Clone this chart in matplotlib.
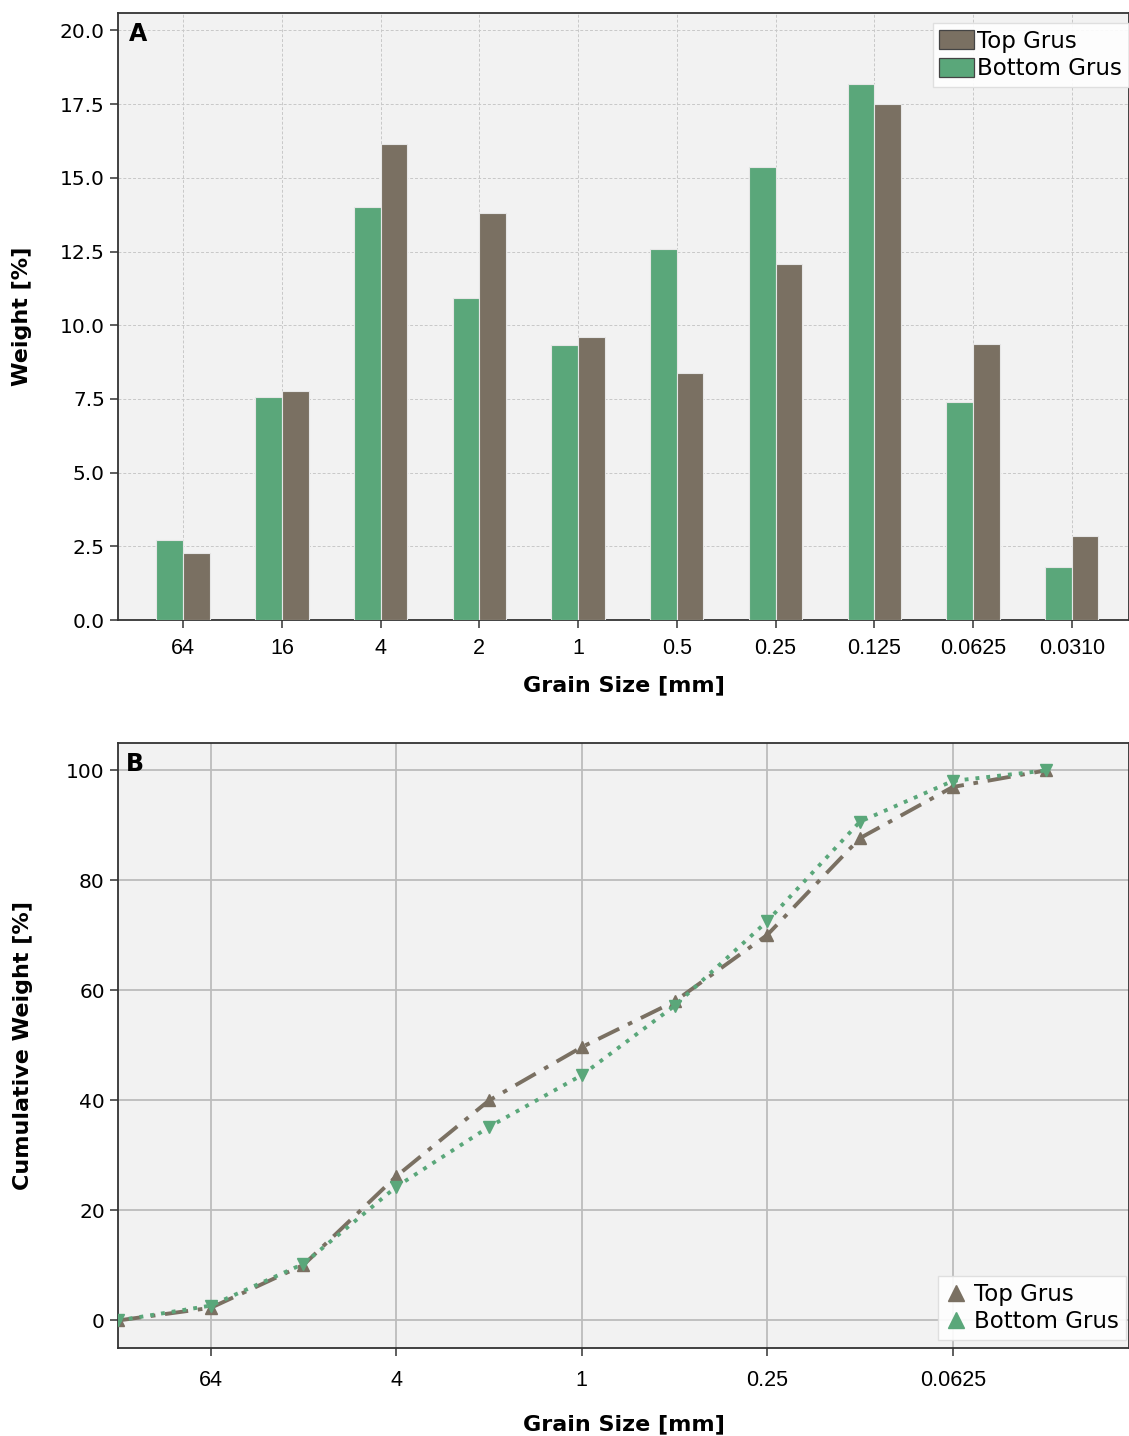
import numpy as np
import matplotlib.pyplot as plt
from matplotlib.patches import Patch
from matplotlib.lines import Line2D

# grain size classes [mm]
grain_sizes = ["64", "16", "4", "2", "1", "0.5", "0.25", "0.125", "0.0625", "0.0310"]

# weight per class [%]
top_grus = [2.28, 7.78, 16.16, 13.82, 9.61, 8.39, 12.09, 17.52, 9.37, 2.85]
bottom_grus = [2.72, 7.57, 14.02, 10.93, 9.34, 12.60, 15.38, 18.17, 7.40, 1.80]

# cumulative weight [%] (first point = 0)
top_cum = [0, 2.3, 10.1, 26.2, 40.0, 49.7, 58.0, 70.1, 87.7, 97.0, 100]
bottom_cum = [0, 2.7, 10.3, 24.3, 35.2, 44.6, 57.2, 72.6, 90.7, 98.1, 100]

brown = "#7a7062"
green = "#5aa77a"
bg = "#f2f2f2"

fig = plt.figure(figsize=(11.29, 14.36), dpi=100)
ax1 = fig.add_axes([0.1045, 0.5682, 0.8955, 0.4227])
ax2 = fig.add_axes([0.1045, 0.0613, 0.8955, 0.4213])

# ---- A: bar chart
x = np.arange(len(grain_sizes))
w = 0.27
ax1.set_facecolor(bg)
ax1.bar(x - w / 2, bottom_grus, w, color=green, edgecolor="#e6e6e6", linewidth=0.8, zorder=3)
ax1.bar(x + w / 2, top_grus, w, color=brown, edgecolor="#e6e6e6", linewidth=0.8, zorder=3)
ax1.set_xticks(x)
ax1.set_xticklabels(grain_sizes, fontfamily="Liberation Sans", fontsize=15.5)
ax1.set_xlim(-0.66, 9.58)
ax1.set_ylim(0, 20.59)
ax1.set_yticks(np.arange(0, 20.1, 2.5))
ax1.set_yticklabels([f"{v:.1f}" for v in np.arange(0, 20.1, 2.5)], fontsize=14.5)
ax1.grid(True, linestyle=(0, (3, 2)), color="#c8c8c8", linewidth=0.7, zorder=0)
ax1.set_axisbelow(True)
ax1.tick_params(axis="x", pad=7)
ax1.set_xlabel("Grain Size [mm]", fontsize=16, fontweight="bold", labelpad=12)
ax1.set_ylabel("Weight [%]", fontsize=16, fontweight="bold", labelpad=20)
ax1.text(0.011, 0.985, "A", transform=ax1.transAxes, fontsize=17, fontweight="bold",
         va="top", ha="left")
handles1 = [Patch(facecolor=brown, edgecolor="#444444", linewidth=0.9, label="Top Grus"),
            Patch(facecolor=green, edgecolor="#444444", linewidth=0.9, label="Bottom Grus")]
ax1.legend(handles=handles1, loc="upper right", fontsize=16.5, handlelength=1.5,
           handleheight=0.9, handletextpad=0.15, borderpad=0.3, labelspacing=0.2,
           framealpha=0.9, edgecolor="#dddddd", fancybox=False,
           bbox_to_anchor=(1.0, 0.984), borderaxespad=0.0)

# ---- B: cumulative curves
xi = np.arange(len(top_cum))
ax2.set_facecolor(bg)
ax2.plot(xi, top_cum, color=brown, linestyle=(0, (6, 2.5, 1.2, 2.5)), linewidth=2.8,
         marker="^", markersize=9, zorder=3)
ax2.plot(xi, bottom_cum, color=green, linestyle=(0, (1, 1.8)), linewidth=2.8,
         marker="v", markersize=9, zorder=3)
ax2.set_xticks(xi[1:-1:2])
ax2.set_xticklabels(grain_sizes[::2], fontfamily="Liberation Sans", fontsize=15.5)
ax2.set_xlim(0, 10.9)
ax2.set_ylim(-5, 105)
ax2.set_yticks([0, 20, 40, 60, 80, 100])
ax2.tick_params(axis="y", labelsize=14.5)
ax2.tick_params(axis="x", pad=10)
ax2.grid(True, linestyle="-", color="#bcbcbc", linewidth=1.3, zorder=0)
ax2.set_axisbelow(True)
ax2.set_xlabel("Grain Size [mm]", fontsize=16, fontweight="bold", labelpad=17)
ax2.set_ylabel("Cumulative Weight [%]", fontsize=16, fontweight="bold", labelpad=24)
ax2.text(0.008, 0.985, "B", transform=ax2.transAxes, fontsize=17, fontweight="bold",
         va="top", ha="left")
handles2 = [Line2D([], [], color=brown, marker="^", linestyle="none", markersize=11, label="Top Grus"),
            Line2D([], [], color=green, marker="^", linestyle="none", markersize=11, label="Bottom Grus")]
ax2.legend(handles=handles2, loc="lower right", fontsize=16.5, handlelength=1.0,
           handletextpad=0.3, borderpad=0.3, labelspacing=0.2, framealpha=0.9,
           edgecolor="#dddddd", fancybox=False, bbox_to_anchor=(0.997, 0.013),
           borderaxespad=0.0)

for ax in (ax1, ax2):
    for s in ax.spines.values():
        s.set_color("#333333")
        s.set_linewidth(1.3)
    ax.tick_params(length=6, width=1.1, color="#333333")

fig.savefig("out.png", dpi=100)
